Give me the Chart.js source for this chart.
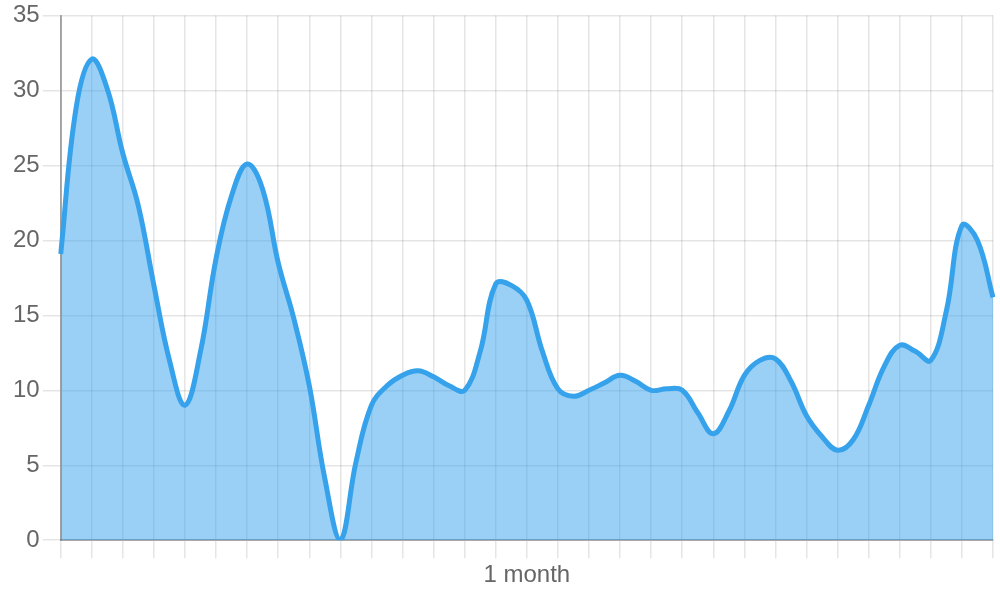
<!DOCTYPE html>
<html>
<head>
<meta charset="utf-8">
<script src="https://cdn.jsdelivr.net/npm/chart.js@4"></script>
<style>
    html, body { margin: 0; padding: 0; background: #fff; }
    #wrap { width: 1000px; height: 600px; }
</style>
</head>
<body>
<div id="wrap"><canvas id="chart"></canvas></div>
<script>
// Values, one per half grid step (61 points across ~2 months)
const values = [
    19.1, 28.9, 32.1, 30.1, 25.8, 22.3, 17.0, 12.0, 9.0, 12.6,
    18.8, 23.0, 25.1, 23.4, 18.5, 14.8, 10.3, 4.1, 0.0, 5.2,
    9.0, 10.3, 11.0, 11.3, 10.9, 10.3, 10.0, 12.6, 17.1, 17.0,
    16.0, 12.6, 10.1, 9.6, 10.0, 10.5, 11.0, 10.6, 10.0, 10.1,
    10.0, 8.5, 7.1, 8.6, 11.0, 12.0, 12.1, 10.6, 8.3, 6.9,
    6.0, 6.7, 9.0, 11.6, 13.0, 12.6, 12.0, 15.3, 21.0, 20.0,
    16.2
];

// Tick labels: only the middle one is shown
const xLabels = values.map(() => '');
xLabels[30] = '1 month';

const yTicks = [0, 5, 10, 15, 20, 25, 30, 35];

const LINE_COLOR = 'rgb(54, 162, 235)';
const FILL_COLOR = 'rgba(54, 162, 235, 0.5)';
const GRID_COLOR = 'rgba(0, 0, 0, 0.1)';

Chart.defaults.font.family = '"Liberation Sans", Arial, sans-serif';
Chart.defaults.font.size = 24;
Chart.defaults.color = '#666';

const el = document.getElementById('chart');
el._chart = new Chart(el.getContext('2d'), {
    type: 'line',
    data: {
        labels: xLabels,
        datasets: [{
            label: 'value',
            data: values,
            borderColor: LINE_COLOR,
            backgroundColor: FILL_COLOR,
            borderWidth: 5,
            pointRadius: 0,
            tension: 0.4,
            fill: 'origin'
        }]
    },
    options: {
        responsive: true,
        maintainAspectRatio: false,
        animation: false,
        layout: { padding: { left: 10, right: 7, top: 0, bottom: 7 } },
        plugins: {
            legend: { display: false },
            tooltip: { enabled: false }
        },
        scales: {
            x: {
                grid: {
                    // grid line every second point
                    color: ctx => ctx.index % 2 === 0 ? GRID_COLOR : 'transparent',
                    tickLength: 18,
                    lineWidth: 1.5
                },
                border: { color: 'rgba(0, 0, 0, 0.3)', width: 2 },
                ticks: { autoSkip: false, maxRotation: 0, padding: 3 }
            },
            y: {
                min: yTicks[0],
                max: yTicks[yTicks.length - 1],
                grid: { color: GRID_COLOR, tickLength: 18, lineWidth: 1.5 },
                border: { color: 'rgba(0, 0, 0, 0.3)', width: 2 },
                ticks: { stepSize: 5, padding: 3, font: { lineHeight: 1.05 } }
            }
        }
    }
});
</script>
</body>
</html>
